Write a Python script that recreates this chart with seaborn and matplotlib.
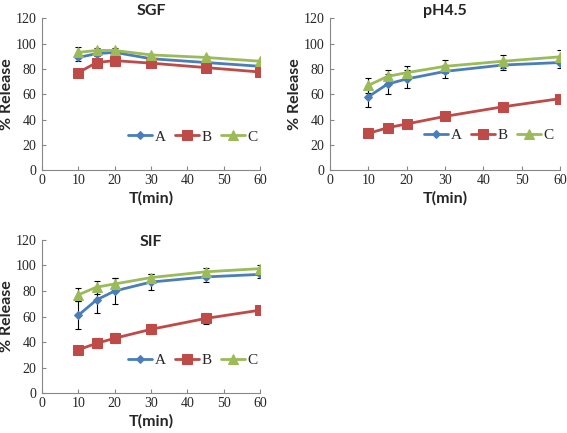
import numpy as np
import pandas as pd
import matplotlib
matplotlib.use("Agg")
import matplotlib.pyplot as plt
import seaborn as sns

# ── Data ───────────────────────────────────────────────────────────────────────
times = [10, 15, 20, 30, 45, 60]

sgf_a = [89, 92, 93, 88, 85, 82]
sgf_b = [77, 85, 86.5, 84.5, 81, 77.5]
sgf_c = [93, 94.5, 94.5, 91, 89, 86]
sgf_a_err = [3, 2, 2, 1, 1, 1]
sgf_b_err = [3, 2, 1.5, 1, 1, 1]
sgf_c_err = [4, 2, 2, 1, 1, 1]

ph_a = [58, 68, 72, 78, 83, 85]
ph_b = [29, 33.5, 36.5, 42.5, 50, 56.5]
ph_c = [67, 74, 77, 82, 86, 89.5]
ph_a_err = [8, 8, 7, 5, 4, 4]
ph_b_err = [1.5, 1.5, 1.5, 2, 2, 3]
ph_c_err = [6, 5, 5, 5, 5, 5]

sif_a = [61, 73, 80, 87, 91, 93]
sif_b = [34, 39, 43, 50, 58.5, 65]
sif_c = [77, 83, 85.5, 90.5, 95, 97.5]
sif_a_err = [11, 10, 10, 6, 4, 3]
sif_b_err = [3, 4, 4, 4, 4, 3]
sif_c_err = [5, 5, 5, 3, 3, 3]

series   = ['A', 'B', 'C']
colors   = {'A': '#4a7ebb', 'B': '#be4b48', 'C': '#9bbb59'}
markers  = {'A': 'D', 'B': 's', 'C': '^'}
msizes   = {'A': 4.5, 'B': 6.5, 'C': 6.5}

panels = [
    ('SGF',   [sgf_a, sgf_b, sgf_c], [sgf_a_err, sgf_b_err, sgf_c_err]),
    ('pH4.5', [ph_a, ph_b, ph_c],    [ph_a_err, ph_b_err, ph_c_err]),
    ('SIF',   [sif_a, sif_b, sif_c], [sif_a_err, sif_b_err, sif_c_err]),
]

# ── Figure ─────────────────────────────────────────────────────────────────────
sns.set_style('white')
plt.rcParams['font.family'] = ['Lato', 'DejaVu Sans']

fig = plt.figure(figsize=(5.67, 4.33), dpi=100)
positions = [
    [0.074, 0.607, 0.385, 0.351],
    [0.582, 0.607, 0.406, 0.351],
    [0.074, 0.092, 0.385, 0.354],
]
title_y = [1.0, 1.0, 0.94]
legend_y = [0.22, 0.23, 0.215]

for (name, vals, errs), pos, ty, ly in zip(panels, positions, title_y, legend_y):
    ax = fig.add_axes(pos)
    df = pd.DataFrame({
        'T': times * 3,
        'release': vals[0] + vals[1] + vals[2],
        'series': [s for s in series for _ in times],
    })
    for s, v, e in zip(series, vals, errs):
        ax.errorbar(times, v, yerr=e, fmt='none', ecolor='black',
                    elinewidth=0.8, capsize=2.5, capthick=0.8, zorder=1)
    for s in series:
        sub = df[df['series'] == s]
        sns.lineplot(data=sub, x='T', y='release', ax=ax, color=colors[s],
                     marker=markers[s], markersize=msizes[s],
                     markeredgecolor=colors[s], linewidth=2, label=s, zorder=3)

    ax.set_xlim(0, 60)
    ax.set_ylim(0, 120)
    ax.set_xticks(range(0, 61, 10))
    ax.set_yticks(range(0, 121, 20))
    for lab in ax.get_xticklabels() + ax.get_yticklabels():
        lab.set_family('Liberation Serif')
        lab.set_fontsize(10)
    ax.tick_params(axis='both', direction='in', length=3, width=0.8,
                   color='#888888', bottom=True, left=True)
    ax.tick_params(axis='y', pad=4)
    ax.tick_params(axis='x', pad=3)
    for sp in ['top', 'right']:
        ax.spines[sp].set_visible(False)
    for sp in ['left', 'bottom']:
        ax.spines[sp].set_color('#888888')
        ax.spines[sp].set_linewidth(0.8)

    ax.set_title(name, fontsize=11.5, fontweight='bold', y=ty, pad=2)
    ax.set_xlabel('T(min)', fontsize=11.5, fontweight='bold', labelpad=3)
    ax.set_ylabel('% Release', fontsize=11.5, fontweight='bold', labelpad=1)

    ax.legend(loc='center', bbox_to_anchor=(0.69, ly), ncol=3, frameon=False,
              handlelength=1.6, handletextpad=0.15, columnspacing=0.6,
              prop={'family': 'Liberation Serif', 'size': 11})

plt.savefig('out.png', dpi=100)
